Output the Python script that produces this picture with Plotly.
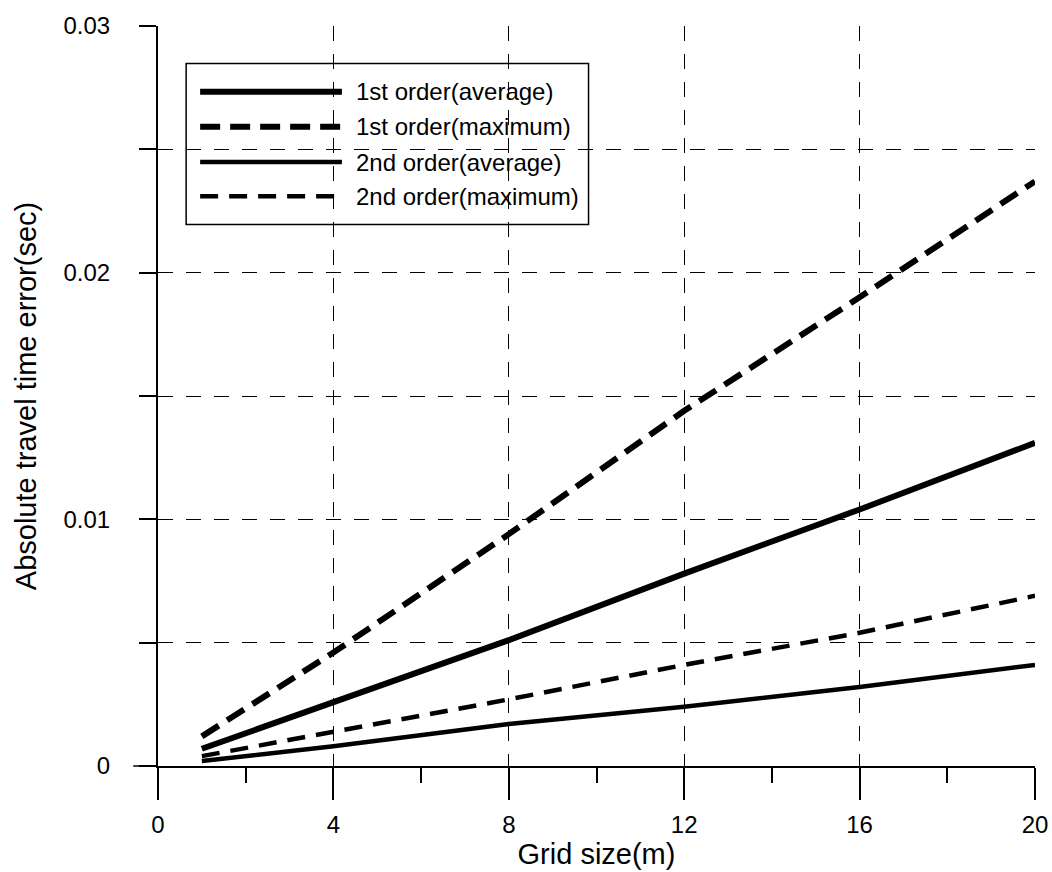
import plotly.graph_objects as go

# ---- data ----
grid_size = [1, 4, 8, 12, 16, 20]
first_avg = [0.0007, 0.0026, 0.0051, 0.0078, 0.0104, 0.0131]
first_max = [0.0012, 0.0046, 0.0094, 0.0144, 0.0190, 0.0237]
second_avg = [0.0002, 0.0008, 0.0017, 0.0024, 0.0032, 0.0041]
second_max = [0.0004, 0.0014, 0.0027, 0.0041, 0.0054, 0.0069]

series_names = ["1st order(average)", "1st order(maximum)",
                "2nd order(average)", "2nd order(maximum)"]

x_tickvals = [0, 4, 8, 12, 16, 20]
x_minor = [2, 6, 10, 14, 18]
y_tickvals = [0, 0.005, 0.01, 0.015, 0.02, 0.025, 0.03]
y_ticktext = ["0", "", "0.01", "", "0.02", "", "0.03"]

FONT = "Liberation Sans, Arial, sans-serif"
# page is rendered slightly larger than the picture and scaled down
W, H = 1060, 880
SX, SY = W / 1052, H / 872
L = round(157 * SX)
T = round(24 * SY)
R = W - round(1035 * SX)
B = H - round(759 * SY)
PW, PH = W - L - R, H - T - B


def px(xp):
    return (xp * SX - L) / PW


def py(yp):
    return (H - B - yp * SY) / PH


styles = [
    dict(color="black", width=6, dash="solid"),
    dict(color="black", width=6, dash="20px,10px"),
    dict(color="black", width=4.5, dash="solid"),
    dict(color="black", width=4.5, dash="18px,11px"),
]
series = [first_avg, first_max, second_avg, second_max]

fig = go.Figure()
for name, ys, st in zip(series_names, series, styles):
    fig.add_trace(go.Scatter(x=grid_size, y=ys, mode="lines", name=name,
                             line=st, showlegend=False))

grid_common = dict(showgrid=True, gridcolor="black", gridwidth=1.2,
                   griddash="15px,13px", zeroline=False, showline=True,
                   linecolor="black", ticks="outside", tickcolor="black",
                   ticklabeloverflow="allow",
                   tickfont=dict(family=FONT, size=24, color="black"))

fig.update_xaxes(range=[0, 20], tickvals=x_tickvals, ticklen=32, tickwidth=1.5,
                 linewidth=1.5,
                 minor=dict(tickvals=x_minor, ticklen=15, ticks="outside",
                            tickcolor="black", tickwidth=1.5, showgrid=False),
                 ticklabelstandoff=4,
                 title=dict(text="Grid size(m)", font=dict(family=FONT, size=29, color="black"),
                            standoff=2),
                 **grid_common)
fig.update_yaxes(range=[0, 0.03], tickvals=y_tickvals, ticktext=y_ticktext,
                 ticklen=17, tickwidth=1.5, linewidth=2,
                 ticklabelstandoff=24,
                 title=dict(text="Absolute travel time error(sec)",
                            font=dict(family=FONT, size=29, color="black"),
                            standoff=18),
                 **grid_common)

shapes = []
# extension of x-axis line left of origin
shapes.append(dict(type="line", xref="paper", yref="paper", x0=px(132), x1=0,
                   y0=0, y1=0, line=dict(color="black", width=1.5)))
# legend box
shapes.append(dict(type="rect", xref="paper", yref="paper", x0=px(185), x1=px(588),
                   y0=py(221), y1=py(61), line=dict(color="black", width=1.5),
                   fillcolor="rgba(0,0,0,0)"))
legend_y = [89, 124, 159, 193]
annotations = []
for name, st, ly in zip(series_names, styles, legend_y):
    shapes.append(dict(type="line", xref="paper", yref="paper", x0=px(199), x1=px(341),
                       y0=py(ly), y1=py(ly), line=st))
    annotations.append(dict(text=name, xref="paper", yref="paper", x=px(353), y=py(ly),
                            xanchor="left", yanchor="middle", showarrow=False,
                            font=dict(family=FONT, size=24, color="black")))

fig.update_layout(width=W, height=H, autosize=False, margin=dict(l=L, r=R, t=T, b=B),
                  plot_bgcolor="white", paper_bgcolor="white",
                  shapes=shapes, annotations=annotations)

fig.write_html("out.html", config={"displayModeBar": False, "responsive": False},
               post_script="document.body.style.margin='0';document.body.style.overflow='hidden';")
